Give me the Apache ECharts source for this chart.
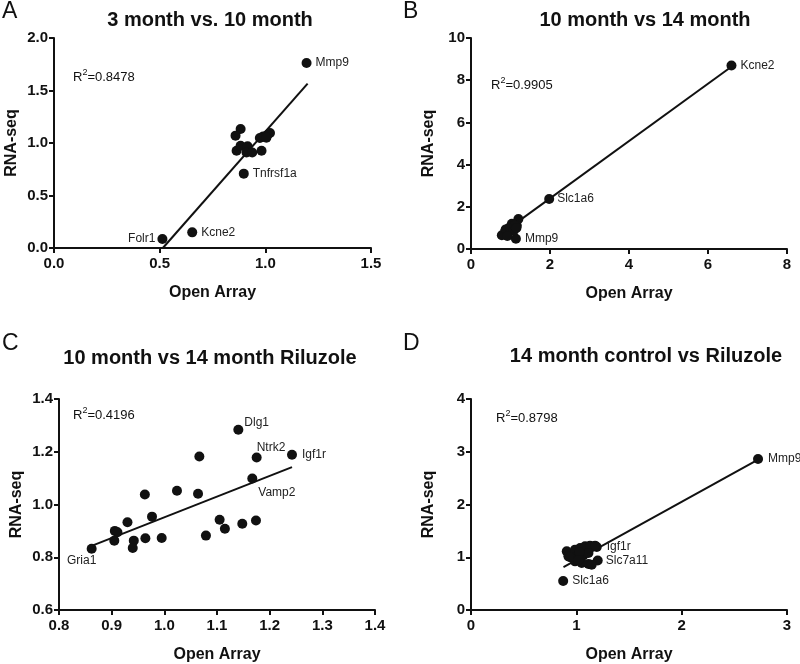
<!DOCTYPE html>
<html>
<head>
<meta charset="utf-8">
<script src="https://cdn.jsdelivr.net/npm/echarts@6/dist/echarts.min.js"></script>
<style>html,body{margin:0;padding:0;background:#fff;}#c{width:800px;height:664px;}</style>
</head>
<body>
<div id="c"></div>
<script>
// ---------- DATA ----------
// Panel A: 3 month vs. 10 month
const A_x = [1.195, 0.898, 0.654, 0.513, 0.883, 0.859, 0.864, 0.883, 0.916, 0.911, 0.938, 0.982, 0.990, 1.011, 1.022, 0.974, 1.005];
const A_y = [1.762, 0.708, 0.149, 0.086, 1.133, 1.070, 0.927, 0.974, 0.968, 0.910, 0.910, 0.927, 1.063, 1.079, 1.095, 1.048, 1.050];
const A_names = ['Mmp9', 'Tnfrsf1a', 'Kcne2', 'Folr1', '', '', '', '', '', '', '', '', '', '', '', '', ''];
const A_fit_x = [0.515, 1.20];
const A_fit_y = [0.0, 1.565];
const A_r2 = '0.8478';

// Panel B: 10 month vs 14 month
const B_x = [6.594, 1.979, 1.137, 1.20, 1.16, 1.035, 0.95, 0.866, 0.78, 0.88, 0.99, 1.08, 1.10, 0.92, 1.15];
const B_y = [8.70, 2.373, 0.49, 1.42, 1.10, 1.20, 0.98, 0.85, 0.65, 0.93, 1.01, 0.87, 1.11, 0.62, 1.00];
const B_names = ['Kcne2', 'Slc1a6', 'Mmp9', '', '', '', '', '', '', '', '', '', '', '', ''];
const B_fit_x = [0.78, 6.6];
const B_fit_y = [0.74, 8.65];
const B_r2 = '0.9905';

// Panel C: 10 month vs 14 month Riluzole
const C_x = [1.1405, 1.1753, 1.2424, 1.167, 0.862, 1.0665, 1.064, 1.024, 0.963, 0.9766, 0.930, 0.906, 0.911, 0.905, 0.942, 0.940, 0.964, 0.995, 1.079, 1.105, 1.115, 1.148, 1.174];
const C_y = [1.2835, 1.1785, 1.1886, 1.0987, 0.832, 1.1823, 1.0405, 1.052, 1.038, 0.954, 0.933, 0.900, 0.895, 0.863, 0.863, 0.835, 0.872, 0.873, 0.882, 0.942, 0.908, 0.927, 0.939];
const C_names = ['Dlg1', 'Ntrk2', 'Igf1r', 'Vamp2', 'Gria1', '', '', '', '', '', '', '', '', '', '', '', '', '', '', '', '', '', ''];
const C_fit_x = [0.862, 1.2424];
const C_fit_y = [0.843, 1.1418];
const C_r2 = '0.4196';

// Panel D: 14 month control vs Riluzole
const D_x = [2.725, 0.875, 1.203, 1.194, 0.909, 0.925, 0.988, 1.036, 1.083, 1.130, 1.178, 1.004, 1.067, 1.115, 0.988, 1.051, 1.115, 1.146, 0.941, 1.030, 1.020];
const D_y = [2.862, 0.550, 0.940, 1.194, 1.112, 1.017, 1.144, 1.175, 1.207, 1.220, 1.220, 1.017, 1.036, 1.080, 0.922, 0.891, 0.872, 0.859, 1.000, 1.100, 0.950];
const D_names = ['Mmp9', 'Slc1a6', 'Slc7a11', 'Igf1r', '', '', '', '', '', '', '', '', '', '', '', '', '', '', '', '', ''];
const D_fit_x = [0.878, 2.725];
const D_fit_y = [0.815, 2.85];
const D_r2 = '0.8798';

const titles = ['3 month vs. 10 month', '10 month vs 14 month', '10 month vs 14 month Riluzole', '14 month control vs Riluzole'];
const letters = ['A', 'B', 'C', 'D'];
const xAxisName = 'Open Array';
const yAxisName = 'RNA-seq';

// ---------- STYLE / LAYOUT ----------
const FONT = '"Liberation Sans", Arial, Helvetica, sans-serif';
const panels = [
  {x: A_x, y: A_y, n: A_names, fx: A_fit_x, fy: A_fit_y, r2: A_r2,
   grid: {left: 54, top: 38, width: 317, height: 210},
   xa: {min: 0, max: 1.5, interval: 0.5, dec: 1}, ya: {min: 0, max: 2, interval: 0.5, dec: 1}},
  {x: B_x, y: B_y, n: B_names, fx: B_fit_x, fy: B_fit_y, r2: B_r2,
   grid: {left: 471, top: 38, width: 316, height: 211},
   xa: {min: 0, max: 8, interval: 2, dec: 0}, ya: {min: 0, max: 10, interval: 2, dec: 0}},
  {x: C_x, y: C_y, n: C_names, fx: C_fit_x, fy: C_fit_y, r2: C_r2,
   grid: {left: 59, top: 399, width: 316, height: 211},
   xa: {min: 0.8, max: 1.4, interval: 0.1, dec: 1}, ya: {min: 0.6, max: 1.4, interval: 0.2, dec: 1}},
  {x: D_x, y: D_y, n: D_names, fx: D_fit_x, fy: D_fit_y, r2: D_r2,
   grid: {left: 471, top: 399, width: 316, height: 211},
   xa: {min: 0, max: 3, interval: 1, dec: 0}, ya: {min: 0, max: 4, interval: 1, dec: 0}}
];
// label placement per panel and name (relative to the 10px symbol box)
const labelPlace = [
  {Mmp9: {position: 'right', distance: 4}, Tnfrsf1a: {position: 'right', distance: 4}, Kcne2: {position: 'right', distance: 4}, Folr1: {position: 'left', distance: 2}},
  {Kcne2: {position: 'right', distance: 4}, Slc1a6: {position: 'right', distance: 3}, Mmp9: {position: 'right', distance: 4}},
  {Dlg1: {position: [11, -2], align: 'left', verticalAlign: 'middle'},
   Ntrk2: {position: [5, -5], align: 'left', verticalAlign: 'middle'},
   Igf1r: {position: 'right', distance: 5},
   Vamp2: {position: [11, 19], align: 'left', verticalAlign: 'middle'},
   Gria1: {position: [-5, 17], align: 'center', verticalAlign: 'middle'}},
  {Mmp9: {position: 'right', distance: 5}, Slc1a6: {position: 'right', distance: 4}, Slc7a11: {position: 'right', distance: 3}, Igf1r: {position: 'right', distance: 5}}
];
const r2Pos = [[73, 68], [491, 76], [73, 406], [496, 409]];
const titlePos = [[210, 10], [645, 10], [210, 348], [646, 346]];
const letterPos = [[2, 0], [403, 0], [2, 332], [403, 332]];

const option = {
  backgroundColor: '#fff',
  animation: false,
  title: [], grid: [], xAxis: [], yAxis: [], series: []
};

function axisCommon(a) {
  return {
    min: a.min, max: a.max, interval: a.interval,
    splitLine: {show: false},
    axisLine: {show: true, onZero: false, lineStyle: {color: '#111', width: 2}},
    axisTick: {show: true, inside: false, length: 5, lineStyle: {color: '#111', width: 2}},
    axisLabel: {color: '#111', fontFamily: FONT, fontWeight: 'bold', fontSize: 15,
      formatter: v => Number(v).toFixed(a.dec), showMinLabel: true, showMaxLabel: true},
    nameTextStyle: {color: '#111', fontFamily: FONT, fontWeight: 'bold', fontSize: 16}
  };
}

panels.forEach((p, i) => {
  option.grid.push(Object.assign({containLabel: false}, p.grid));
  option.xAxis.push(Object.assign(axisCommon(p.xa), {
    type: 'value', gridIndex: i, name: xAxisName, nameLocation: 'middle', nameGap: 37
  }));
  option.xAxis[i].axisLabel.margin = 8;
  option.yAxis.push(Object.assign(axisCommon(p.ya), {
    type: 'value', gridIndex: i, name: yAxisName, nameLocation: 'middle', nameGap: 34
  }));
  option.yAxis[i].axisLabel.margin = 6;

  const data = p.x.map((xv, k) => {
    const name = p.n[k];
    const item = {value: [xv, p.y[k]], name: name};
    if (name) {
      item.label = Object.assign({show: true, formatter: '{b}', color: '#222', fontFamily: FONT, fontSize: 12}, labelPlace[i][name]);
    }
    return item;
  });
  option.series.push({
    type: 'line', xAxisIndex: i, yAxisIndex: i, symbol: 'none', silent: true,
    lineStyle: {color: '#111', width: 2},
    data: p.fx.map((xv, k) => [xv, p.fy[k]]), z: 2
  });
  option.series.push({
    type: 'scatter', xAxisIndex: i, yAxisIndex: i, symbol: 'circle', symbolSize: 10,
    itemStyle: {color: '#111', opacity: 1}, label: {show: false}, data: data, z: 3
  });

  option.title.push({
    text: titles[i], left: titlePos[i][0], top: titlePos[i][1], textAlign: 'center', padding: 0,
    textStyle: {fontFamily: FONT, fontWeight: 'bold', fontSize: 20, color: '#111'}
  });
  option.title.push({
    text: letters[i], left: letterPos[i][0], top: letterPos[i][1], padding: 0,
    textStyle: {fontFamily: FONT, fontWeight: 'normal', fontSize: 23, color: '#111'}
  });
  option.title.push({
    text: 'R{sup|2}=' + p.r2, left: r2Pos[i][0], top: r2Pos[i][1], padding: 0,
    textStyle: {fontFamily: FONT, fontWeight: 'normal', fontSize: 13, color: '#111', lineHeight: 18,
      rich: {sup: {fontFamily: FONT, fontSize: 9, color: '#111', verticalAlign: 'top', lineHeight: 18, padding: [0, 0, 6, 0]}}}
  });
});

const chart = echarts.init(document.getElementById('c'), null, {renderer: 'canvas'});
chart.setOption(option);
</script>
</body>
</html>
